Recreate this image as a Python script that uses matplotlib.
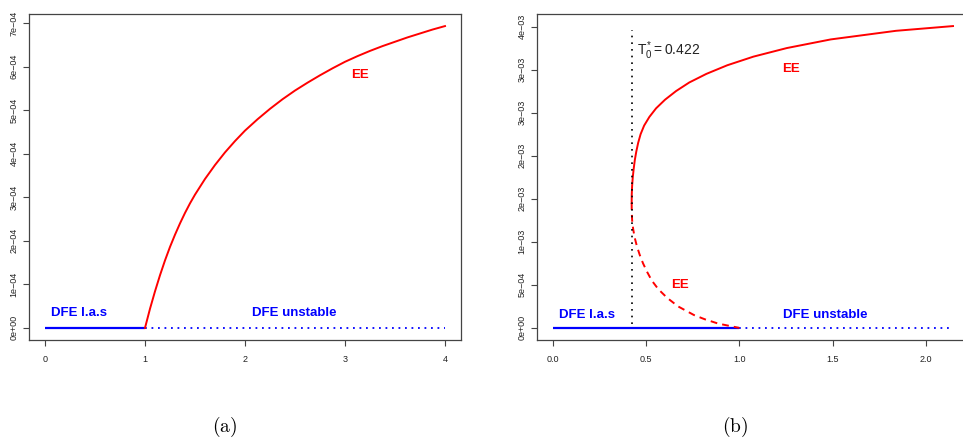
import matplotlib.pyplot as plt
from matplotlib.ticker import FixedLocator, FixedFormatter

plt.rcParams['font.family'] = ['Liberation Sans', 'DejaVu Sans']
plt.rcParams['mathtext.fontset'] = 'custom'
plt.rcParams['mathtext.rm'] = 'Liberation Sans'
plt.rcParams['mathtext.it'] = 'Liberation Sans'

# ---- panel (a) data ----
dfe_a_stable = [0, 1]
dfe_a_unstable = [1, 4]
T_a = [1.0, 1.05, 1.1, 1.15, 1.2, 1.25, 1.3, 1.35, 1.4, 1.45, 1.5, 1.6, 1.7,
       1.8, 1.9, 2.0, 2.125, 2.25, 2.375, 2.5, 2.625, 2.75, 2.875, 3.0,
       3.125, 3.25, 3.375, 3.5, 3.625, 3.75, 3.875, 4.0]
EE_a = [0, 0.44e-4, 0.84e-4, 1.21e-4, 1.55e-4, 1.86e-4, 2.14e-4, 2.40e-4,
        2.64e-4, 2.86e-4, 3.06e-4, 3.42e-4, 3.74e-4, 4.03e-4, 4.29e-4,
        4.53e-4, 4.79e-4, 5.03e-4, 5.25e-4, 5.45e-4, 5.63e-4, 5.80e-4,
        5.96e-4, 6.11e-4, 6.24e-4, 6.36e-4, 6.47e-4, 6.57e-4, 6.67e-4,
        6.76e-4, 6.85e-4, 6.93e-4]
xticks_a = [0, 1, 2, 3, 4]
xlabels_a = ['0', '1', '2', '3', '4']
yticks_a = [0, 1e-4, 2e-4, 3e-4, 4e-4, 5e-4, 6e-4, 7e-4]
ylabels_a = ['0e+00', '1e\u221204', '2e\u221204', '3e\u221204', '4e\u221204',
             '5e\u221204', '6e\u221204', '7e\u221204']

# ---- panel (b) data ----
T0 = 0.422
dfe_b_stable = [0, 1]
dfe_b_unstable = [1, 2.146]
# upper (stable) EE branch
EE_up = [1.45e-3, 1.55e-3, 1.65e-3, 1.75e-3, 1.85e-3, 1.95e-3, 2.05e-3,
         2.15e-3, 2.25e-3, 2.35e-3, 2.45e-3, 2.55e-3, 2.65e-3, 2.75e-3,
         2.85e-3, 2.95e-3, 3.05e-3, 3.15e-3, 3.25e-3, 3.35e-3, 3.45e-3,
         3.505e-3]
T_up = [0.422, 0.4225, 0.4245, 0.428, 0.433, 0.439, 0.447, 0.457, 0.470,
        0.489, 0.517, 0.553, 0.601, 0.660, 0.731, 0.823, 0.935, 1.075,
        1.255, 1.49, 1.84, 2.146]
# lower (unstable) EE branch
EE_lo = [1.45e-3, 1.35e-3, 1.25e-3, 1.15e-3, 1.05e-3, 0.95e-3, 0.85e-3,
         0.75e-3, 0.65e-3, 0.55e-3, 0.45e-3, 0.35e-3, 0.25e-3, 0.15e-3,
         0.10e-3, 0.05e-3, 0]
T_lo = [0.422, 0.4225, 0.4245, 0.430, 0.438, 0.450, 0.465, 0.483, 0.505,
        0.530, 0.565, 0.612, 0.671, 0.756, 0.815, 0.887, 1.0]
xticks_b = [0, 0.5, 1.0, 1.5, 2.0]
xlabels_b = ['0.0', '0.5', '1.0', '1.5', '2.0']
yticks_b = [0, 5e-4, 1e-3, 1.5e-3, 2e-3, 2.5e-3, 3e-3, 3.5e-3]
ylabels_b = ['0e+00', '5e\u221204', '1e\u221203', '2e\u221203', '2e\u221203',
             '3e\u221203', '3e\u221203', '4e\u221203']

RED = '#FF0000'
BLUE = '#0000FF'
FRAME = '#444444'


def r_limits(lo, hi):
    # R style 4% padding
    d = (hi - lo) * 0.04
    return lo - d, hi + d


def style_axes(ax, xt, xl, yt, yl):
    for s in ax.spines.values():
        s.set_color(FRAME)
        s.set_linewidth(0.9)
    ax.xaxis.set_major_locator(FixedLocator(xt))
    ax.xaxis.set_major_formatter(FixedFormatter(xl))
    ax.yaxis.set_major_locator(FixedLocator(yt))
    ax.yaxis.set_major_formatter(FixedFormatter(yl))
    ax.tick_params(axis='both', direction='out', length=4.5, width=0.8,
                   color=FRAME, labelsize=6.5, labelcolor='#222222')
    ax.tick_params(axis='x', pad=6)
    ax.tick_params(axis='y', pad=3)
    for lab in ax.get_yticklabels():
        lab.set_rotation(90)
        lab.set_va('center')


fig = plt.figure(figsize=(9.63, 4.4), dpi=100)
ax1 = fig.add_axes([29 / 963, 100 / 440, 432 / 963, 326 / 440])
ax2 = fig.add_axes([537 / 963, 100 / 440, 432 / 963, 326 / 440])

# panel (a)
ax1.plot(dfe_a_stable, [0, 0], color=BLUE, lw=1.6, solid_capstyle='butt')
ax1.plot(dfe_a_unstable, [0, 0], color=BLUE, lw=1.3, linestyle=(0, (1, 2.6)))
ax1.plot(T_a, EE_a, color=RED, lw=1.4)
ax1.set_xlim(*r_limits(0, max(dfe_a_unstable)))
ax1.set_ylim(*r_limits(0, max(EE_a)))
style_axes(ax1, xticks_a, xlabels_a, yticks_a, ylabels_a)
ax1.text(0.338, 0.35e-4, 'DFE l.a.s', color=BLUE, fontsize=9.5,
         fontweight='bold', ha='center', va='center')
ax1.text(2.49, 0.35e-4, 'DFE unstable', color=BLUE, fontsize=9.5,
         fontweight='bold', ha='center', va='center')
ax1.text(3.15, 5.8e-4, 'EE', color=RED, fontsize=9.5,
         fontweight='bold', ha='center', va='center')

# panel (b)
ax2.plot(dfe_b_stable, [0, 0], color=BLUE, lw=1.6, solid_capstyle='butt')
ax2.plot(dfe_b_unstable, [0, 0], color=BLUE, lw=1.3, linestyle=(0, (1, 2.6)))
ax2.plot(T_up, EE_up, color=RED, lw=1.4)
ax2.plot(T_lo, EE_lo, color=RED, lw=1.4, linestyle=(0, (3.5, 2.6)))
ax2.plot([T0, T0], [0.05e-3, 3.46e-3], color='black', lw=1.2,
         linestyle=(0, (1, 3)))
ax2.set_xlim(*r_limits(0, max(dfe_b_unstable)))
ax2.set_ylim(*r_limits(0, max(EE_up)))
style_axes(ax2, xticks_b, xlabels_b, yticks_b, ylabels_b)
ax2.text(0.183, 0.15e-3, 'DFE l.a.s', color=BLUE, fontsize=9.5,
         fontweight='bold', ha='center', va='center')
ax2.text(1.459, 0.15e-3, 'DFE unstable', color=BLUE, fontsize=9.5,
         fontweight='bold', ha='center', va='center')
ax2.text(1.278, 3.01e-3, 'EE', color=RED, fontsize=9.5,
         fontweight='bold', ha='center', va='center')
ax2.text(0.679, 0.50e-3, 'EE', color=RED, fontsize=9.5,
         fontweight='bold', ha='center', va='center')
ax2.text(0.453, 3.22e-3, r'$T_0^{*} = 0.422$', color='#222222', fontsize=10,
         ha='left', va='center')

# captions
fig.text(225 / 963, 13 / 440, r'$\mathrm{(a)}$', math_fontfamily='cm',
         fontsize=14, ha='center', va='center')
fig.text(735 / 963, 13 / 440, r'$\mathrm{(b)}$', math_fontfamily='cm',
         fontsize=14, ha='center', va='center')

fig.savefig('out.png', dpi=100)
